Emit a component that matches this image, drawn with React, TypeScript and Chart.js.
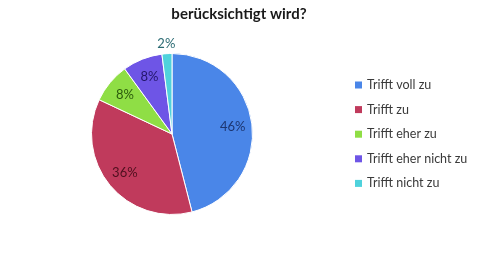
import React, { useEffect, useRef } from "react";
import { Chart, registerables } from "chart.js";

Chart.register(...registerables);

const categories = ["Trifft voll zu", "Trifft zu", "Trifft eher zu", "Trifft eher nicht zu", "Trifft nicht zu"];
const values = [46, 36, 8, 8, 2];
const pctLabels = ["46%", "36%", "8%", "8%", "2%"];
const titleText = "berücksichtigt wird?";
const colors = ["#4A86E8", "#C03A5C", "#8FDE45", "#6E55E6", "#4FD2DC"];
const labelColors = ["#1C3570", "#4E0F1E", "#2B5A0C", "#23166B", "#2A6A72"];

const overlayPlugin = {
  id: "overlay",
  afterDraw(chart: any) {
    const ctx = chart.ctx;
    ctx.save();
    // title
    ctx.fillStyle = "#1a1a1a";
    ctx.font = "bold 15px Lato";
    ctx.textAlign = "center";
    ctx.textBaseline = "middle";
    ctx.fillText(titleText, 239, 14);

    // percentage labels
    const meta = chart.getDatasetMeta(0);
    ctx.font = "13px Lato";
    meta.data.forEach((arc: any, i: number) => {
      const p = arc.getProps(["x", "y", "startAngle", "endAngle", "outerRadius"], true);
      const mid = (p.startAngle + p.endAngle) / 2;
      const frac = values[i] < 5 ? 1.12 : 0.76;
      const x = p.x + Math.cos(mid) * p.outerRadius * frac;
      const y = p.y + Math.sin(mid) * p.outerRadius * frac;
      ctx.fillStyle = labelColors[i];
      ctx.fillText(pctLabels[i], x, y);
    });

    // legend
    ctx.textAlign = "left";
    ctx.font = "12.5px Lato";
    categories.forEach((c, i) => {
      const cy = 85 + i * 24.6;
      ctx.fillStyle = colors[i];
      ctx.fillRect(355, cy - 3.5, 7, 7);
      ctx.fillStyle = "#3a3a3a";
      ctx.fillText(c, 367, cy);
    });
    ctx.restore();
  },
};

export default function App() {
  const ref = useRef<HTMLCanvasElement>(null);
  useEffect(() => {
    if (!ref.current) return;
    const chart = new Chart(ref.current, {
      type: "pie",
      data: {
        labels: categories,
        datasets: [
          {
            data: values,
            backgroundColor: colors,
            borderColor: "#ffffff",
            borderWidth: 1,
          },
        ],
      },
      options: {
        animation: false,
        responsive: false,
        layout: { padding: { left: 91, right: 227, top: 53, bottom: 55 } },
        plugins: {
          legend: { display: false },
          tooltip: { enabled: false },
          title: { display: false },
        },
      },
      plugins: [overlayPlugin],
    });
    return () => chart.destroy();
  }, []);
  return (
    <div style={{ position: "fixed", left: 0, top: 0, width: 480, height: 270, background: "#fff" }}>
      <canvas ref={ref} width={480} height={270} style={{ width: 480, height: 270 }} />
    </div>
  );
}
